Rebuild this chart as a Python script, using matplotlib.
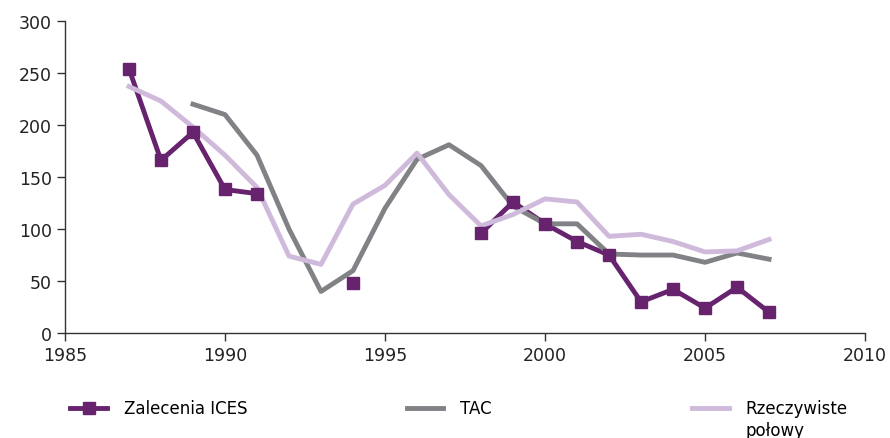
import numpy as np
import matplotlib
matplotlib.use("Agg")
import matplotlib.pyplot as plt

# data
years = list(range(1987, 2008))
ices = [254, 166, 193, 138, 134, None, None, 48, None, None, None,
        96, 126, 105, 88, 75, 30, 42, 24, 44, 20]
tac_years = list(range(1989, 2008))
tac = [220, 210, 171, 100, 40, 60, 120, 167, 181, 161, 122,
       105, 105, 76, 75, 75, 68, 77, 71]
catch = [237, 223, 198, 171, 140, 74, 66, 124, 142, 173, 133,
         103, 114, 129, 126, 93, 95, 88, 78, 79, 90]
labels = ["Zalecenia ICES", "TAC", "Rzeczywiste"]
label_extra = "połowy"

c_ices = "#68236f"
c_tac = "#808285"
c_catch = "#cfbadc"

plt.rcParams['font.family'] = ['DejaVu Sans']
fig = plt.figure(figsize=(8.9, 4.39), dpi=100)
ax = fig.add_axes([0.073, 0.239, 0.899, 0.711])

ices_arr = np.array([np.nan if v is None else v for v in ices], dtype=float)
l1, = ax.plot(years, ices_arr, color=c_ices, lw=3.5, zorder=2)
ax.plot(years, ices_arr, ls='none', marker='s', ms=9, color=c_ices, zorder=5)
l2, = ax.plot(tac_years, tac, color=c_tac, lw=3.5, zorder=3)
l3, = ax.plot(years, catch, color=c_catch, lw=3.5, zorder=4)

ax.set_xlim(1985, 2010)
ax.set_ylim(0, 300)
ax.set_xticks(range(1985, 2011, 5))
ax.set_yticks(range(0, 301, 50))
ax.spines['top'].set_visible(False)
ax.spines['right'].set_visible(False)
ax.tick_params(axis='both', labelsize=12.5, length=6, width=1, color='#333333', labelcolor='#222222')
ax.tick_params(axis='x', pad=3)
for s in ['left', 'bottom']:
    ax.spines[s].set_color('#333333')
    ax.spines[s].set_linewidth(1)

# legend in three separate slots like the original
h1 = matplotlib.lines.Line2D([], [], color=c_ices, lw=3.5, marker='s', ms=9)
legs = []
for h, lab, x in zip([h1, l2, l3], labels, [0.079, 0.457, 0.778]):
    lg = fig.legend(handles=[h], labels=[lab], loc='upper left', bbox_to_anchor=(x, 0.088),
                    frameon=False, fontsize=12, handlelength=2.2, handletextpad=1.0,
                    borderaxespad=0, borderpad=0)
    legs.append(lg)

# second line of the last label sits under its text, not centred on the handle
fig.canvas.draw()
bb = legs[2].get_texts()[0].get_window_extent().transformed(fig.transFigure.inverted())
fig.text(bb.x0, bb.y0 - 0.008, label_extra, fontsize=12, va='top', ha='left')

fig.savefig("out.png", dpi=100)
